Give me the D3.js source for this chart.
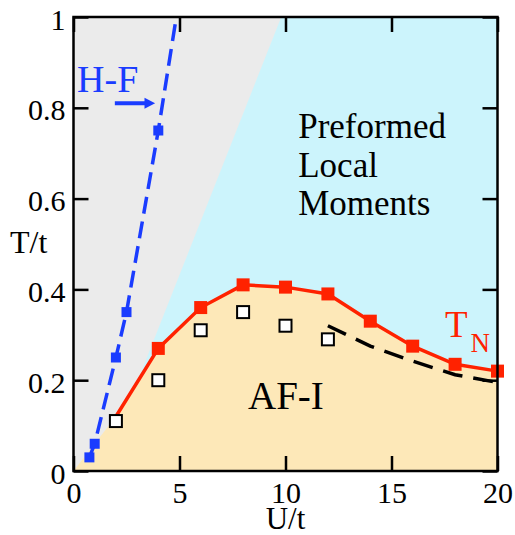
<!DOCTYPE html>
<html>
<head>
<meta charset="utf-8">
<script src="https://cdn.jsdelivr.net/npm/d3@7"></script>
<style>
  body { margin: 0; background: #fff; }
  text { font-family: "Liberation Serif", "DejaVu Serif", serif; }
</style>
</head>
<body>
<svg></svg>
<script>
const width = 515;
const height = 535;
const margin = {left: 73.5, right: 17.5, top: 17, bottom: 64};

// axes
const uTicks = [0, 5, 10, 15, 20];
const tTicks = [0, 0.2, 0.4, 0.6, 0.8, 1];
const tTickLabels = ['0', '0.2', '0.4', '0.6', '0.8', '1'];

// Neel temperature (red, filled squares)
const tnU = [2, 4, 6, 8, 10, 12, 14, 16, 18, 20];
const tnT = [0.12, 0.27, 0.36, 0.41, 0.405, 0.39, 0.33, 0.275, 0.235, 0.22];
// open squares
const openU = [2, 4, 6, 8, 10, 12];
const openT = [0.11, 0.20, 0.31, 0.35, 0.32, 0.29];
// black dashed curve
const dashU = [12, 14, 16, 18, 20];
const dashT = [0.32, 0.275, 0.242, 0.212, 0.195];
// Hartree-Fock (blue)
const hfU = [0.75, 1, 2, 2.5, 4];
const hfT = [0.03, 0.06, 0.25, 0.35, 0.75];
const hfTopU = 4.85;
const hfTopT = 1;
// gray / cyan crossover line
const crossU = [1.35, 9.8];
const crossT = [0, 1];

const svg = d3.select('svg')
	.attr('width', width)
	.attr('height', height);

const x = d3.scaleLinear().domain([0, 20]).range([margin.left, width - margin.right]);
const y = d3.scaleLinear().domain([0, 1]).range([height - margin.bottom, margin.top]);

const zip = (us, ts) => us.map((u, i) => [u, ts[i]]);
const line = d3.line().x(d => x(d[0])).y(d => y(d[1]));

// background regions
svg.append('rect')
	.attr('x', x(0)).attr('y', y(1))
	.attr('width', x(20) - x(0)).attr('height', y(0) - y(1))
	.attr('fill', '#ebebeb');

const cyanPts = zip(crossU, crossT).concat([[20, 1], [20, 0]]);
svg.append('path')
	.attr('d', line(cyanPts) + 'Z')
	.attr('fill', '#ccf4fc');

const orangePts = [[0, 0]].concat(zip(tnU, tnT), [[20, 0]]);
svg.append('path')
	.attr('d', line(orangePts) + 'Z')
	.attr('fill', '#fde8b8');

// axes (ticks inside, mirrored)
const xAxis = d3.axisBottom(x).tickValues(uTicks).tickSizeInner(-15).tickSizeOuter(0).tickPadding(11);
const yAxis = d3.axisLeft(y).tickValues(tTicks).tickSizeInner(-15).tickSizeOuter(0).tickPadding(8)
	.tickFormat((d, i) => tTickLabels[i]);

function styleAxis(g) {
	g.select('.domain').remove();
	g.selectAll('line').attr('stroke', '#000').attr('stroke-width', 2.5);
	g.selectAll('text').attr('fill', '#000').attr('font-size', 30)
		.attr('font-family', '"Liberation Serif", serif');
}

svg.append('g')
	.attr('transform', `translate(0, ${y(0)})`)
	.call(xAxis).call(styleAxis);
svg.append('g')
	.attr('transform', `translate(${x(0)}, 0)`)
	.call(yAxis).call(styleAxis)
	.selectAll('text').attr('dy', '0.4em');
svg.append('g')
	.attr('transform', `translate(0, ${y(1)})`)
	.call(d3.axisTop(x).tickValues(uTicks).tickSizeInner(-15).tickSizeOuter(0).tickFormat(''))
	.call(styleAxis);
svg.append('g')
	.attr('transform', `translate(${x(20)}, 0)`)
	.call(d3.axisRight(y).tickValues(tTicks).tickSizeInner(-15).tickSizeOuter(0).tickFormat(''))
	.call(styleAxis);

// black dashed curve
svg.append('path')
	.attr('d', line(zip(dashU, dashT)))
	.attr('fill', 'none')
	.attr('stroke', '#000')
	.attr('stroke-width', 3.5)
	.attr('stroke-dasharray', '20,11');

// H-F line
svg.append('path')
	.attr('d', line(zip(hfU, hfT).concat([[hfTopU, hfTopT]])))
	.attr('fill', 'none')
	.attr('stroke', '#1a3cff')
	.attr('stroke-width', 3.5)
	.attr('stroke-dasharray', '17,8');
svg.append('g').selectAll('rect')
	.data(zip(hfU, hfT))
	.join('rect')
	.attr('x', d => x(d[0]) - 5).attr('y', d => y(d[1]) - 5)
	.attr('width', 10).attr('height', 10)
	.attr('fill', '#1a3cff');

// T_N line
svg.append('path')
	.attr('d', line(zip(tnU, tnT)))
	.attr('fill', 'none')
	.attr('stroke', '#ff2200')
	.attr('stroke-width', 3.5);
svg.append('g').selectAll('rect')
	.data(zip(tnU, tnT).slice(1))
	.join('rect')
	.attr('x', d => x(d[0]) - 6.5).attr('y', d => y(d[1]) - 6.5)
	.attr('width', 13).attr('height', 13)
	.attr('fill', '#ff2200');

// open squares
svg.append('g').selectAll('rect')
	.data(zip(openU, openT))
	.join('rect')
	.attr('x', d => x(d[0]) - 6).attr('y', d => y(d[1]) - 6)
	.attr('width', 12).attr('height', 12)
	.attr('fill', '#fff')
	.attr('stroke', '#000')
	.attr('stroke-width', 2);

// frame
svg.append('rect')
	.attr('x', x(0)).attr('y', y(1))
	.attr('width', x(20) - x(0)).attr('height', y(0) - y(1))
	.attr('fill', 'none')
	.attr('stroke', '#000')
	.attr('stroke-width', 2.5);

// H-F arrow
const ay = y(0.81);
svg.append('line')
	.attr('x1', x(1.95)).attr('y1', ay)
	.attr('x2', x(3.45)).attr('y2', ay)
	.attr('stroke', '#1a3cff').attr('stroke-width', 4);
svg.append('path')
	.attr('d', `M${x(3.35)},${ay - 5.5}L${x(3.85)},${ay}L${x(3.35)},${ay + 5.5}Z`)
	.attr('fill', '#1a3cff');

// labels
svg.append('text')
	.attr('x', x(0.17)).attr('y', y(0.835))
	.attr('font-size', 38).attr('fill', '#1a3cff')
	.text('H-F');

const pre = svg.append('text')
	.attr('x', x(10.6)).attr('y', y(0.733))
	.attr('font-size', 35).attr('fill', '#000');
['Preformed', 'Local', 'Moments'].forEach((s, i) => {
	pre.append('tspan').attr('x', x(10.6)).attr('dy', i ? 38.5 : 0).text(s);
});

svg.append('text')
	.attr('x', x(8.23)).attr('y', y(0.137))
	.attr('font-size', 39).attr('fill', '#000')
	.text('AF-I');

const tn = svg.append('text')
	.attr('x', x(17.52)).attr('y', y(0.295))
	.attr('font-size', 37).attr('fill', '#ff2200');
tn.append('tspan').text('T');
tn.append('tspan').attr('font-size', 27).attr('dx', 3).attr('dy', 15).text('N');

svg.append('text')
	.attr('x', 10).attr('y', 253)
	.attr('font-size', 32).attr('fill', '#000')
	.text('T/t');

svg.append('text')
	.attr('x', (x(0) + x(20)) / 2).attr('y', 529)
	.attr('text-anchor', 'middle')
	.attr('font-size', 31).attr('fill', '#000')
	.text('U/t');
</script>
</body>
</html>
